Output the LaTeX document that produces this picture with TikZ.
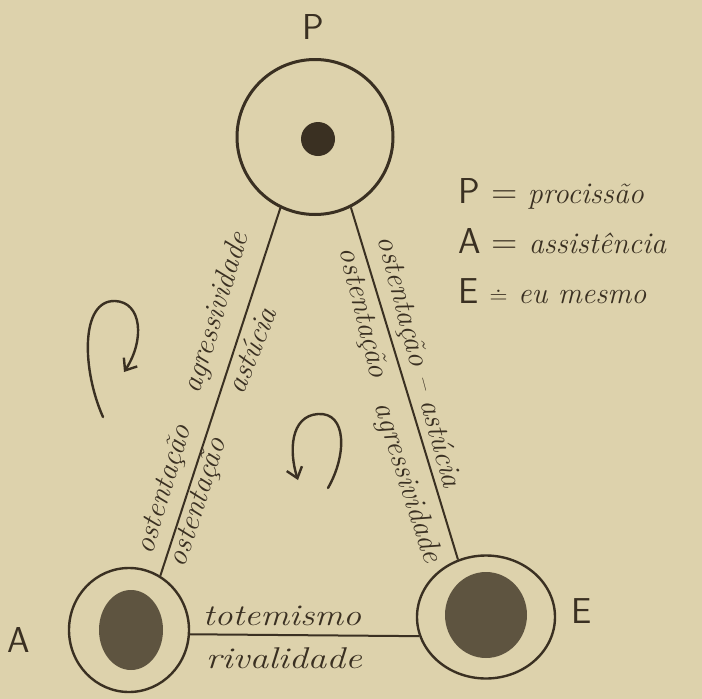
\documentclass[tikz,border=0pt]{standalone}
\usepackage{fontspec}
\usetikzlibrary{arrows.meta,shapes.geometric}
\definecolor{paper}{RGB}{221,210,172}
\definecolor{ink}{RGB}{58,48,34}
\newcommand{\handfont}{\fontsize{30}{32}\selectfont\itshape}
\newcommand{\capsfont}{\fontsize{36}{40}\selectfont\upshape\sffamily}

\begin{document}
\begin{tikzpicture}[x=1pt,y=-1pt,
    ring/.style={draw=ink, ellipse, line width=2.4pt, inner sep=0pt},
    core/.style={fill=ink!78!paper},
    lbl/.style={text=ink, font=\handfont, inner sep=0pt},
    letter/.style={text=ink, font=\capsfont, inner sep=0pt},
    link/.style={draw=ink, line width=2pt},
    turn/.style={draw=ink, line width=2.4pt, line cap=round,
        -{Straight Barb[length=10pt,width=16pt,line width=2.4pt]}}]
    % Paper
    \fill[paper] (0,0) rectangle (702,699);
    \useasboundingbox (0,0) rectangle (702,699);

    % The three circles
    \node[ring, line width=3pt, minimum width=156pt, minimum height=155pt] (P) at (315,137) {};
    \node[ring, minimum width=120pt, minimum height=124pt] (A) at (129,630) {};
    \node[ring, minimum width=138pt, minimum height=123pt] (E) at (486,617) {};

    % Cores
    \fill[ink] (318,139) circle (17pt);
    \fill[core] (131,630) ellipse [x radius=32pt, y radius=40pt];
    \fill[core] (486,615) ellipse [x radius=41pt, y radius=43pt];

    % Letters
    \node[letter] (labP) at (313,27) {P};
    \node[letter] (labA) at (19,640) {A};
    \node[letter] (labE) at (582,611) {E};

    % Sides of the triangle
    \draw[link] (P.244) -- (A.60);
    \draw[link] (P.297) -- (E.116);
    \draw[link] (A.-4) -- (E.196);

    % Left side
    \node[lbl, rotate=73] (ostOutL) at (165,490) {ostentação};
    \node[lbl, rotate=73] (agrOutL) at (217,313) {agressividade};
    \node[lbl, rotate=72] (ostInL) at (199,503) {ostentação};
    \node[lbl, rotate=68] (astInL) at (251,350) {astúcia};

    % Right side
    \node[lbl, rotate=-75] (ostOutR) at (418,362) {ostentação -- astúcia};
    \node[lbl, rotate=-76] (ostInR) at (362,313) {ostentação};
    \node[lbl, rotate=-72] (agrInR) at (407,483) {agressividade};

    % Bottom side
    \node[lbl, anchor=base, xscale=1.2] (totB) at (282,625) {totemismo};
    \node[lbl, anchor=base, xscale=1.25] (rivB) at (284,668) {rivalidade};

    % Turning arrows
    \draw[turn] (103,417) .. controls (82,370) and (80,300) .. (115,301)
        .. controls (142,302) and (145,340) .. (124,372);
    \draw[turn] (328,488) .. controls (347,455) and (347,412) .. (318,414)
        .. controls (290,416) and (289,452) .. (298,480);

    % Key
    \node[lbl, anchor=base west] (keyP) at (458,203) {{\capsfont P =} procissão};
    \node[lbl, anchor=base west] (keyA) at (458,253) {{\capsfont A =} assistência};
    \node[lbl, anchor=base west] (keyE) at (458,303) {{\capsfont E $\doteq$} eu mesmo};
\end{tikzpicture}
\end{document}
